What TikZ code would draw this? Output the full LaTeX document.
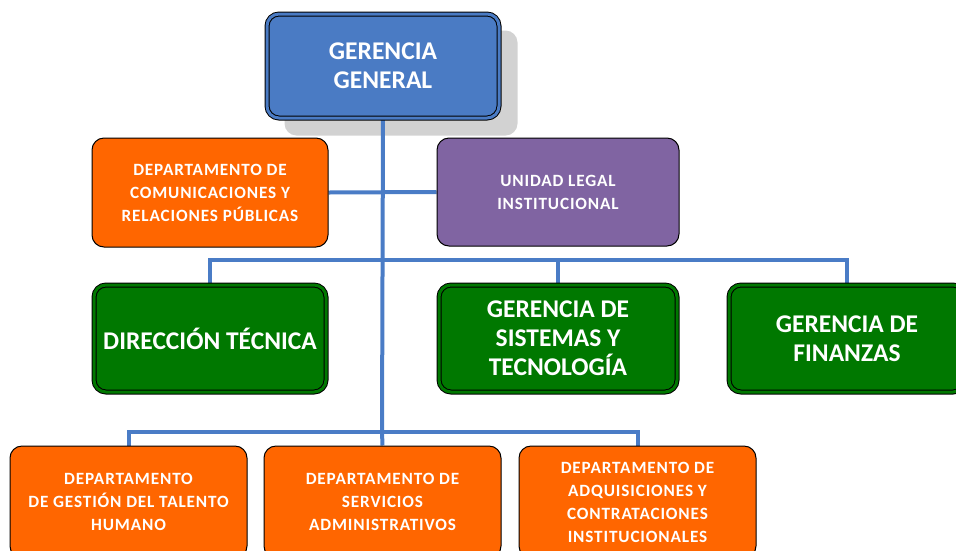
\documentclass[tikz,border=0pt]{standalone}
\usepackage{fontspec}
\setmainfont{Carlito}
\newfontfamily\spacedfont[LetterSpace=5]{Carlito}
\usetikzlibrary{backgrounds}
\definecolor{ggblue}{HTML}{4A7BC4}
\definecolor{lineblue}{HTML}{4A7CC6}
\definecolor{orangebox}{HTML}{FF6600}
\definecolor{purplebox}{HTML}{8064A2}
\definecolor{greenbox}{HTML}{007800}
\definecolor{shadowgray}{HTML}{D2D2D2}
\tikzset{
  box/.style={rounded corners=12pt, text=white, align=center, inner sep=0pt, font=\bfseries},
  smallbox/.style={box, draw=black, line width=1pt, font=\spacedfont\bfseries\fontsize{17.2}{23}\selectfont},
  bigbox/.style={box, draw=black, line width=1pt, double distance=3pt, font=\bfseries\fontsize{25.5}{29}\selectfont},
  conn/.style={draw=lineblue, line width=4pt},
}
\begin{document}
\begin{tikzpicture}[x=1pt,y=-1pt]
\useasboundingbox (0,0) rectangle (956,550);
\node[bigbox, fill=ggblue, double=ggblue, minimum width=232pt, minimum height=104pt] (gg) at (383,66) {GERENCIA\\GENERAL};
\node[smallbox, fill=orangebox, minimum width=236pt, minimum height=109pt] (comm) at (210,192.5) {DEPARTAMENTO DE\\COMUNICACIONES Y\\RELACIONES PÚBLICAS};
\node[smallbox, fill=purplebox, minimum width=242pt, minimum height=108pt] (legal) at (558,192) {UNIDAD LEGAL\\INSTITUCIONAL};
\node[bigbox, fill=greenbox, double=greenbox, minimum width=232pt, minimum height=107pt] (dt) at (210,338.5) {DIRECCIÓN TÉCNICA};
\node[bigbox, fill=greenbox, double=greenbox, minimum width=238pt, minimum height=107pt] (sist) at (558,338.5) {GERENCIA DE\\SISTEMAS Y\\TECNOLOGÍA};
\node[bigbox, fill=greenbox, double=greenbox, minimum width=236pt, minimum height=107pt] (fin) at (847,338.5) {GERENCIA DE\\FINANZAS};
\node[smallbox, fill=orangebox, minimum width=237pt, minimum height=112pt] (tal) at (128.5,502) {DEPARTAMENTO\\DE GESTIÓN DEL TALENTO\\HUMANO};
\node[smallbox, fill=orangebox, minimum width=237pt, minimum height=112pt] (serv) at (382.5,502) {DEPARTAMENTO DE\\SERVICIOS\\ADMINISTRATIVOS};
\node[smallbox, fill=orangebox, minimum width=237pt, minimum height=112pt] (adq) at (637.5,502) {DEPARTAMENTO DE\\ADQUISICIONES Y\\CONTRATACIONES\\INSTITUCIONALES};
\coordinate (j2) at (382,260);
\coordinate (j3) at (382,432);
\begin{pgfonlayer}{background}
\fill[shadowgray, rounded corners=12pt] ([shift={(18,17)}]gg.south west) rectangle ([shift={(18,17)}]gg.north east);
\draw[conn] (gg.south) -- (j3);
\draw[conn] (comm.east) -- (legal.west);
\draw[conn] (dt.north) |- (j2) -| (fin.north);
\draw[conn] (j2) -| (sist.north);
\draw[conn] (tal.north) |- (j3) -| (adq.north);
\draw[conn] (j3) -- (serv.north);
\end{pgfonlayer}
\end{tikzpicture}
\end{document}
